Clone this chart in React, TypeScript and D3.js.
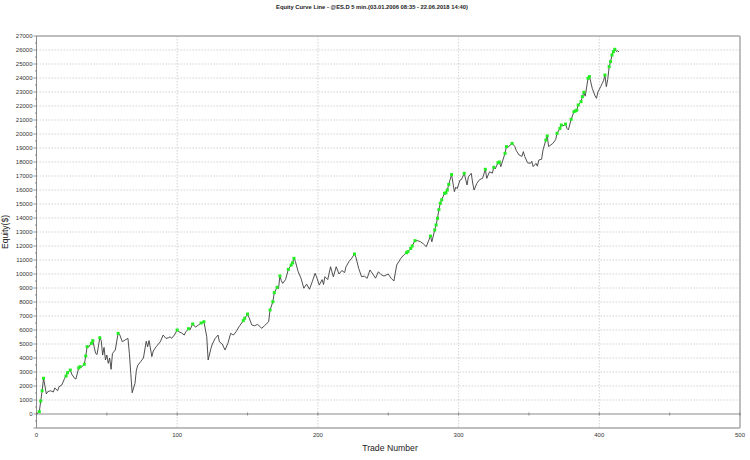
import React from "react";
import * as d3 from "d3";

const title = "Equity Curve Line - @ES.D 5 min.(03.01.2006 08:35 - 22.06.2018 14:40)";
const xLabel = "Trade Number";
const yLabel = "Equity($)";

const xTicks = [0, 100, 200, 300, 400, 500];
const yTicks = d3.range(0, 27001, 1000);

const trades = [
  0, 2, 3, 4, 5, 7, 8, 10, 12, 13, 15, 16, 18, 20, 21, 22, 24, 25, 27, 28,
  30, 31, 32, 34, 35, 36, 37, 39, 40, 42, 43, 45, 46, 47, 48, 49, 50, 51, 52, 53,
  54, 56, 58, 59, 61, 63, 65, 66, 67, 68, 70, 71, 72, 74, 76, 78, 79, 80, 82, 83,
  85, 88, 90, 92, 94, 95, 96, 98, 100, 101, 103, 105, 106, 108, 109, 111, 113, 115, 117, 119,
  121, 122, 124, 125, 127, 129, 130, 132, 134, 136, 138, 140, 142, 144, 147, 148, 150, 151, 153, 155,
  157, 159, 160, 162, 165, 166, 168, 169, 171, 172, 173, 174, 175, 177, 179, 181, 182, 183, 184, 186,
  188, 190, 192, 194, 196, 198, 199, 201, 203, 204, 205, 207, 209, 210, 211, 213, 215, 217, 219, 220,
  222, 224, 226, 227, 229, 231, 233, 235, 237, 239, 241, 243, 245, 247, 250, 252, 254, 256, 259, 261,
  263, 264, 266, 267, 269, 271, 273, 275, 277, 280, 281, 283, 284, 285, 286, 287, 288, 290, 291, 292,
  293, 295, 297, 298, 299, 301, 302, 304, 306, 307, 309, 310, 311, 313, 315, 317, 319, 320, 322, 324,
  325, 326, 328, 329, 330, 333, 334, 335, 338, 340, 341, 343, 345, 346, 347, 349, 351, 352, 353, 355,
  356, 357, 359, 360, 361, 362, 363, 364, 367, 369, 370, 372, 373, 375, 376, 377, 378, 380, 382, 383,
  384, 385, 387, 388, 389, 390, 392, 393, 394, 395, 397, 398, 399, 401, 402, 403, 404, 405, 406, 407,
  408, 409, 410, 411, 412, 413, 414
];

const equity = [
  0, 170, 930, 1660, 2550, 1430, 1600, 1660, 1570, 1860, 1660, 1950, 2070, 2550, 2710, 2950, 3140, 2860, 2550, 2500,
  3300, 3380, 3350, 3550, 4140, 4810, 4780, 5050, 5240, 4330, 4250, 5450, 5240, 4210, 4760, 3860, 4210, 3620, 4000, 3190,
  4330, 4570, 5760, 5700, 5160, 5290, 5400, 4330, 2900, 1520, 2190, 3140, 3480, 3740, 4000, 5200, 4800, 5250, 4100, 4500,
  4800, 5160, 5640, 5400, 5450, 5520, 5400, 5640, 6000, 5880, 5800, 5640, 5850, 6090, 6000, 6430, 6200, 6350, 6500, 6590,
  5520, 3860, 4690, 5000, 5400, 5640, 5160, 5000, 4570, 5040, 5760, 5640, 5900, 6240, 6670, 6840, 7140, 6900, 6360, 6300,
  6400, 6240, 6120, 6300, 6590, 7430, 8020, 8670, 9050, 8950, 9860, 9520, 9330, 9600, 10330, 10640, 10800, 11120, 10900, 10160,
  9690, 8980, 9280, 8910, 9450, 10050, 9800, 9210, 9600, 9250, 9810, 9600, 10520, 10150, 9800, 10520, 10000, 10250, 10100, 10520,
  10880, 11120, 11430, 11200, 10400, 9810, 9850, 9690, 10290, 10000, 9700, 10160, 9950, 9850, 10000, 9700, 9500, 10640, 11120, 11360,
  11520, 11600, 11830, 12000, 12380, 12380, 12300, 12150, 11950, 12710, 12300, 13140, 13500, 13980, 14600, 15050, 15300, 15770, 15800, 16000,
  16400, 17100, 15880, 16200, 16100, 16710, 16750, 17190, 16360, 16950, 17190, 16500, 16000, 16480, 16750, 16830, 17480, 16830, 17300, 17200,
  17620, 17500, 17950, 18000, 17670, 18620, 19100, 19050, 19330, 19100, 18810, 18500, 18400, 18740, 18400, 17950, 17900, 18050, 17670, 17900,
  17700, 18140, 18200, 18860, 19210, 19570, 19860, 19100, 19330, 19600, 20050, 20400, 20640, 20600, 20710, 20400, 20290, 21050, 21600, 21650,
  21700, 22070, 22310, 22670, 22980, 22700, 23980, 24100, 23700, 23260, 22720, 22550, 23000, 23380, 23600, 23800, 24210, 23380, 23900, 24810,
  25170, 25640, 25880, 26050, 25900, 25950, 25860
];

const W = 750;
const H = 460;
const L = 36.5;
const R = 740;
const T = 36;
const B = 428;

export default function App() {
  const x = d3.scaleLinear().domain([0, 500]).range([L, R]);
  const y = d3.scaleLinear().domain([-1000, 27000]).range([B, T]);

  const pts = trades.map((t, i) => ({ t, v: equity[i] }));
  const line = d3
    .line<{ t: number; v: number }>()
    .x((d) => x(d.t))
    .y((d) => y(d.v));

  const highs: { t: number; v: number }[] = [];
  let maxSoFar = 0;
  pts.forEach((p) => {
    if (p.v > maxSoFar) {
      highs.push(p);
      maxSoFar = p.v;
    }
  });

  const font = "'Liberation Sans', Arial, sans-serif";
  const minorX = d3.range(0, 501, 50);
  const minorY = d3.range(-1000, 27001, 500);

  return (
    <svg
      width={W}
      height={H}
      style={{ position: "absolute", left: 0, top: 0, background: "#fff" }}
      fontFamily={font}
    >
      <rect x={0} y={0} width={W} height={H} fill="#fff" />
      <text x={372} y={9} textAnchor="middle" fontSize={5.8} fontWeight="bold" fill="#222">
        {title}
      </text>

      {/* horizontal grid */}
      {yTicks
        .filter((v) => v !== 0 && v !== 27000)
        .map((v) => (
          <line
            key={"gy" + v}
            x1={L}
            x2={R}
            y1={y(v)}
            y2={y(v)}
            stroke="#c8c8c8"
            strokeWidth={0.8}
            strokeDasharray="1.5,1.5"
          />
        ))}
      {/* vertical grid */}
      {xTicks
        .filter((v) => v !== 0 && v !== 500)
        .map((v) => (
          <line
            key={"gx" + v}
            x1={x(v)}
            x2={x(v)}
            y1={T}
            y2={B}
            stroke="#c8c8c8"
            strokeWidth={0.8}
            strokeDasharray="1.5,1.5"
          />
        ))}

      {/* border */}
      <line x1={L} x2={R} y1={T} y2={T} stroke="#a8a8a8" strokeWidth={1.5} />
      <line x1={R} x2={R} y1={T} y2={B} stroke="#a8a8a8" strokeWidth={1.5} />
      <line x1={L} x2={R} y1={B} y2={B} stroke="#a8a8a8" strokeWidth={1.5} />
      <line x1={L} x2={L} y1={T} y2={B} stroke="#8a8a8a" strokeWidth={1} />

      {/* zero line */}
      <line x1={L} x2={R} y1={y(0)} y2={y(0)} stroke="#8a8a8a" strokeWidth={1} />
      {minorX.map((v) => (
        <line key={"mx" + v} x1={x(v)} x2={x(v)} y1={y(0) - 1.5} y2={y(0) + 1.5} stroke="#777" strokeWidth={0.8} />
      ))}

      {/* y ticks */}
      {minorY.map((v) => (
        <line
          key={"my" + v}
          x1={L - (v % 1000 === 0 ? 3 : 1.5)}
          x2={L}
          y1={y(v)}
          y2={y(v)}
          stroke="#777"
          strokeWidth={0.8}
        />
      ))}
      {yTicks.map((v) => (
        <text key={"ty" + v} x={L - 4} y={y(v) + 2} textAnchor="end" fontSize={6} fill="#333">
          {v}
        </text>
      ))}
      {xTicks.map((v) => (
        <text key={"tx" + v} x={x(v)} y={437} textAnchor="middle" fontSize={6} fill="#333">
          {v}
        </text>
      ))}

      <text x={390} y={451} textAnchor="middle" fontSize={8.7} fill="#222">
        {xLabel}
      </text>
      <text
        transform={`translate(8,232) rotate(-90)`}
        textAnchor="middle"
        fontSize={8.5}
        fill="#222"
      >
        {yLabel}
      </text>

      <path d={line(pts) || ""} fill="none" stroke="#3c3c3c" strokeWidth={0.9} strokeLinejoin="round" />
      {highs.map((p, i) => (
        <rect key={"h" + i} x={x(p.t) - 1.5} y={y(p.v) - 1.5} width={3} height={3} fill="#22ee22" />
      ))}
    </svg>
  );
}
